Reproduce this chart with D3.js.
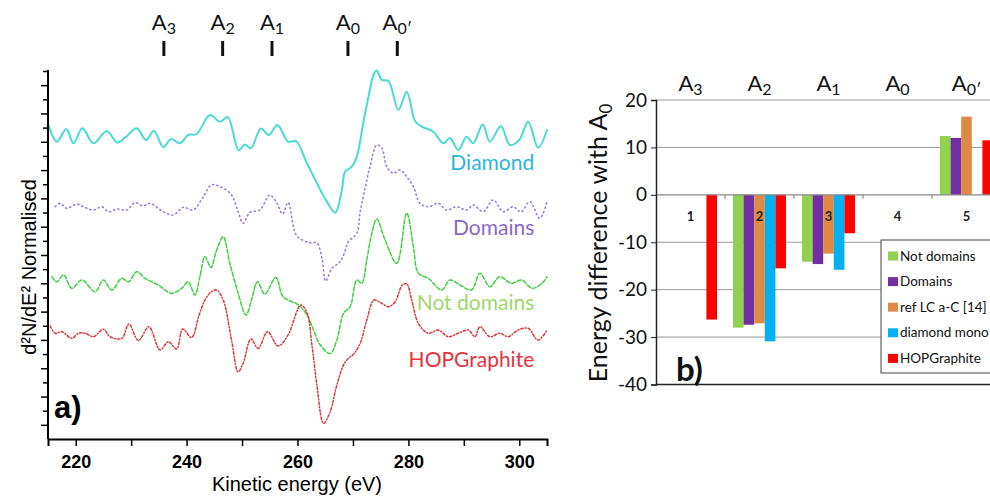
<!DOCTYPE html>
<html>
<head>
<meta charset="utf-8">
<script src="https://cdn.jsdelivr.net/npm/d3@7"></script>
<style>
  body { margin: 0; background: #fff; }
  svg { display: block; }
</style>
</head>
<body>
<svg id="chart" width="990" height="497"></svg>
<script>
// ---- panel a : [kinetic energy (eV), d2N/dE2 normalised (arb. units, offset per curve)]
const diamond = [
  [215.2, 9.07], [216.6, 8.01], [218.3, 8.90], [219.6, 7.89], [221.2, 8.95], [223.2, 7.89],
  [225.6, 8.76], [227.5, 7.94], [229.1, 8.36], [231.0, 8.95], [232.7, 8.13], [234.1, 8.78],
  [235.8, 7.61], [237.2, 8.20], [238.8, 7.89], [240.3, 8.48], [241.8, 8.55], [244.2, 9.89],
  [246.0, 9.42], [247.4, 9.75], [249.4, 7.39], [250.5, 7.81], [251.6, 7.54], [253.4, 8.94],
  [254.8, 8.48], [256.4, 9.19], [258.3, 7.99], [259.7, 8.06], [261.7, 6.48], [263.5, 5.07],
  [265.3, 3.77], [266.8, 2.99], [268.0, 4.59], [268.6, 5.89], [269.8, 6.24], [270.7, 6.95],
  [271.9, 9.42], [272.8, 11.19], [273.7, 12.72], [274.3, 13.04], [275.2, 12.37], [276.4, 12.30],
  [278.2, 10.25], [279.7, 11.54], [281.2, 9.47], [282.4, 9.07], [284.5, 8.71], [286.3, 7.89],
  [287.5, 8.27], [289.0, 7.42], [290.5, 8.36], [291.7, 7.89], [293.4, 9.22], [294.7, 8.01],
  [296.7, 9.10], [298.3, 7.77], [300.0, 8.13], [301.6, 9.42], [303.4, 7.58], [305.0, 8.83]
];
const domains = [
  [216.3, 3.41], [217.2, 3.65], [218.4, 3.30], [220.2, 3.60], [221.4, 3.41], [223.2, 3.18],
  [224.7, 3.41], [225.9, 3.06], [227.5, 3.25], [229.2, 3.18], [230.7, 3.70], [232.1, 3.46],
  [233.4, 3.65], [235.8, 3.06], [237.6, 2.83], [239.4, 3.37], [241.2, 3.18], [243.0, 4.12],
  [244.5, 4.95], [246.3, 4.78], [248.1, 4.24], [249.3, 3.06], [250.2, 2.24], [251.4, 3.00],
  [253.2, 3.18], [255.0, 4.24], [256.3, 3.65], [257.3, 2.90], [258.3, 3.71], [259.9, 1.34],
  [262.3, 0.87], [263.5, 0.85], [264.4, -0.21], [265.1, -1.84], [266.2, -0.94], [267.4, -0.59],
  [268.2, -0.12], [269.2, 0.94], [270.7, 1.53], [271.3, 3.04], [272.2, 4.73], [273.1, 6.29],
  [274.3, 7.77], [275.2, 7.56], [276.1, 6.24], [277.3, 5.77], [278.5, 6.01], [279.7, 5.53],
  [280.9, 4.83], [282.1, 3.65], [283.6, 3.41], [285.4, 3.65], [286.9, 3.18], [288.7, 3.41],
  [290.5, 3.18], [291.7, 3.53], [293.5, 3.06], [295.3, 3.89], [297.1, 3.06], [298.9, 3.41],
  [300.3, 3.04], [301.9, 3.77], [303.7, 2.59], [305.0, 3.77]
];
const notDomains = [
  [215.7, -1.53], [216.6, -1.89], [217.8, -1.41], [219.3, -2.35], [221.1, -1.77], [223.5, -2.59],
  [225.0, -1.77], [226.5, -2.47], [228.3, -1.65], [229.5, -1.89], [231.0, -1.18], [232.5, -1.65],
  [234.9, -2.12], [237.3, -2.71], [239.1, -2.35], [240.3, -1.89], [241.5, -2.83], [242.4, -1.53],
  [243.3, -0.12], [244.4, -0.88], [245.3, 0.21], [246.6, 1.29], [247.8, -0.59], [249.3, -2.71],
  [250.7, -4.24], [251.7, -3.18], [252.8, -1.89], [254.1, -2.76], [256.1, -1.59], [257.3, -2.90],
  [258.3, -3.18], [260.2, -3.53], [261.7, -4.24], [262.9, -5.30], [264.1, -6.36], [265.9, -6.96],
  [267.1, -6.01], [268.3, -4.12], [269.5, -3.65], [270.7, -1.77], [271.6, -2.00], [272.5, -0.35],
  [273.4, 1.53], [274.3, 2.54], [275.8, 1.06], [277.9, -0.59], [279.7, 2.95], [280.9, 0.59],
  [281.8, -1.29], [283.6, -1.65], [286.0, -2.47], [287.5, -1.77], [289.3, -2.12], [291.4, -2.47],
  [292.9, -1.29], [294.7, -2.24], [296.5, -1.53], [298.6, -2.00], [300.4, -1.77], [302.3, -2.35],
  [304.1, -2.00], [305.0, -1.53]
];
const hopGraphite = [
  [215.4, -5.02], [216.3, -5.53], [217.5, -5.42], [219.3, -5.89], [220.5, -5.53], [221.7, -5.53],
  [223.2, -5.77], [225.0, -5.25], [226.2, -5.77], [228.3, -5.89], [229.6, -4.88], [231.3, -6.04],
  [233.2, -5.07], [235.2, -6.71], [236.7, -6.13], [238.2, -6.64], [239.3, -5.23], [240.9, -5.83],
  [242.2, -4.31], [243.3, -3.18], [244.4, -2.62], [245.4, -2.47], [246.6, -3.18], [248.1, -6.01],
  [249.3, -8.25], [250.2, -7.65], [251.6, -5.94], [252.9, -6.59], [254.6, -5.42], [256.5, -6.43],
  [258.3, -5.65], [260.6, -3.53], [261.7, -4.06], [262.6, -6.36], [263.5, -9.19], [264.7, -11.89],
  [265.9, -11.06], [267.1, -9.19], [268.6, -7.56], [270.2, -6.96], [271.3, -6.24], [272.5, -4.59],
  [273.8, -3.18], [275.2, -3.42], [276.4, -3.65], [277.6, -3.32], [278.9, -2.12], [279.7, -2.05],
  [280.6, -3.18], [281.8, -4.83], [283.6, -5.53], [285.4, -5.30], [287.2, -5.77], [289.0, -5.53],
  [290.8, -5.30], [292.0, -5.77], [292.9, -5.07], [294.7, -5.77], [296.5, -5.53], [298.0, -5.77],
  [299.8, -5.30], [301.6, -5.18], [303.4, -6.01], [305.0, -5.30]
];
const curveNames = ["Diamond", "Domains", "Not domains", "HOPGraphite"];
const peakSubs = ["3", "2", "1", "0", "0\u2032"];
const peakEnergies = [235.9, 246.5, 255.4, 269.1, 278.0];
const energyTicks = [220, 230, 240, 250, 260, 270, 280, 290, 300];

// ---- panel b : energy difference with A0 (eV)
const groups = ["1", "2", "3", "4", "5"];
const barSeries = ["Not domains", "Domains", "ref LC a-C  [14]", "diamond mono", "HOPGraphite"];
const diffNotDomains = [null, -28.0, -14.1, null, 12.4];
const diffDomains = [null, -27.4, -14.6, null, 12.0];
const diffRefLC = [null, -27.1, -12.4, null, 16.5];
const diffDiamondMono = [null, -30.9, -15.8, null, null];
const diffHOPG = [-26.3, -15.5, -8.1, null, 11.5];
const diffTicks = [20, 10, 0, -10, -20, -30, -40];

const svg = d3.select("#chart");

// ======================= panel a =======================
const x = d3.scaleLinear().domain([215, 305]).range([48, 547]);
const y = d3.scaleLinear().domain([-13, 13]).range([439, 71]);

const lineStyles = [
  { data: diamond, color: "#46dcd4", width: 2, dash: null },
  { data: domains, color: "#9a80d8", width: 1.6, dash: "1.2,3.2" },
  { data: notDomains, color: "#3fcf3f", width: 1.5, dash: "4,2" },
  { data: hopGraphite, color: "#d8383c", width: 1.5, dash: "2.5,2,1,2" }
];
const labelColors = ["#2eb5d6", "#8a68c4", "#9fd86a", "#e8323a"];

const line = d3.line()
  .x(d => x(d[0]))
  .y(d => y(d[1]))
  .curve(d3.curveCatmullRom.alpha(0.5));

const plotA = svg.append("g");
plotA.selectAll(".spec")
  .data(lineStyles)
  .enter().append("path")
    .attr("class", "spec")
    .attr("d", d => line(d.data))
    .attr("fill", "none")
    .attr("stroke", d => d.color)
    .attr("stroke-width", d => d.width)
    .attr("stroke-dasharray", d => d.dash)
    .attr("stroke-linecap", "round");

// curve names
const nameY = [6.0, 1.41, -3.89, -7.92];
plotA.selectAll(".cname")
  .data(curveNames)
  .enter().append("text")
    .attr("x", x(302.7))
    .attr("y", (d, i) => y(nameY[i]))
    .attr("text-anchor", "end")
    .attr("font-family", "Lato, sans-serif")
    .attr("font-size", 21)
    .attr("fill", (d, i) => labelColors[i])
    .text(d => d);

// axes
const xAxis = d3.axisBottom(x)
  .tickValues(energyTicks)
  .tickSize(7)
  .tickFormat(d => d % 20 === 0 ? d : "");
const gx = svg.append("g").attr("transform", "translate(0,439)").call(xAxis);
gx.select(".domain").attr("stroke-width", 2);
gx.selectAll(".tick line").attr("stroke-width", 1.5);
gx.selectAll(".tick text")
  .attr("font-family", "Liberation Sans, Arial, sans-serif")
  .attr("font-size", 18)
  .attr("font-weight", "bold")
  .attr("dy", "1.05em");

const yAxis = d3.axisLeft(y)
  .tickValues(d3.range(-12, 14))
  .tickSize(6)
  .tickFormat("");
const gy = svg.append("g").attr("transform", "translate(48,0)").call(yAxis);
gy.select(".domain").attr("stroke-width", 2).attr("d", "M0,439V70");
gy.selectAll(".tick line")
  .attr("stroke-width", 1.5)
  .attr("x2", d => d % 2 === 0 ? -7 : -5);

svg.append("text")
  .attr("x", 297).attr("y", 491)
  .attr("text-anchor", "middle")
  .attr("font-family", "Liberation Sans, Arial, sans-serif")
  .attr("font-size", 20)
  .text("Kinetic energy (eV)");

svg.append("text")
  .attr("transform", "translate(36,267) rotate(-90)")
  .attr("text-anchor", "middle")
  .attr("font-family", "Liberation Sans, Arial, sans-serif")
  .attr("font-size", 20)
  .text("d\u00b2N/dE\u00b2 Normalised");

svg.append("text")
  .attr("x", 54).attr("y", 418)
  .attr("font-family", "Liberation Sans, Arial, sans-serif")
  .attr("font-size", 31)
  .attr("font-weight", "bold")
  .text("a)");

// peak markers above panel a
const peaks = svg.append("g").selectAll("g")
  .data(peakEnergies)
  .enter().append("g")
    .attr("transform", d => `translate(${x(d)},0)`);
peaks.append("line")
  .attr("y1", 41).attr("y2", 56)
  .attr("stroke", "#111").attr("stroke-width", 3);
const pt = peaks.append("text")
  .attr("y", 30)
  .attr("text-anchor", "middle")
  .attr("font-family", "Lato, sans-serif")
  .attr("font-size", 22)
  .attr("fill", "#111");
pt.append("tspan").text("A");
pt.append("tspan").attr("dy", 4).attr("font-size", 16).text((d, i) => peakSubs[i]);

// ======================= panel b =======================
const barColors = ["#92d050", "#7030a0", "#de8a45", "#00b0f0", "#ff0000"];
const barValues = [diffNotDomains, diffDomains, diffRefLC, diffDiamondMono, diffHOPG];

const x0 = d3.scaleBand().domain(groups).range([656, 656 + 5 * 69]);
const x1 = d3.scaleBand().domain(barSeries).range([8, 61]);
const yb = d3.scaleLinear().domain([-40, 20]).range([384.5, 100]);

const grid = svg.append("g");
grid.selectAll("line")
  .data(diffTicks.filter(d => d !== -40 && d !== 0))
  .enter().append("line")
    .attr("x1", 656).attr("x2", 1010)
    .attr("y1", d => yb(d)).attr("y2", d => yb(d))
    .attr("stroke", "#9a9a9a").attr("stroke-width", 1);

// bars
const bars = [];
groups.forEach((g, gi) => {
  barSeries.forEach((s, si) => {
    const v = barValues[si][gi];
    if (v !== null) bars.push({ g, s, v, c: barColors[si] });
  });
});
svg.append("g").selectAll("rect")
  .data(bars)
  .enter().append("rect")
    .attr("x", d => x0(d.g) + x1(d.s))
    .attr("width", x1.bandwidth())
    .attr("y", d => yb(Math.max(0, d.v)))
    .attr("height", d => Math.abs(yb(d.v) - yb(0)))
    .attr("fill", d => d.c);

// zero line with category ticks
svg.append("line")
  .attr("x1", 656).attr("x2", 1010)
  .attr("y1", yb(0)).attr("y2", yb(0))
  .attr("stroke", "#8a8a8a").attr("stroke-width", 1.2);
svg.append("g").selectAll("line")
  .data(groups)
  .enter().append("line")
    .attr("x1", d => x0(d) + x0.bandwidth()).attr("x2", d => x0(d) + x0.bandwidth())
    .attr("y1", yb(0)).attr("y2", yb(0) + 4)
    .attr("stroke", "#8a8a8a").attr("stroke-width", 1.2);

svg.append("g").selectAll("text")
  .data(groups)
  .enter().append("text")
    .attr("x", d => x0(d) + x0.bandwidth() / 2)
    .attr("y", 221)
    .attr("text-anchor", "middle")
    .attr("font-family", "Lato, sans-serif")
    .attr("font-size", 13)
    .attr("font-weight", "bold")
    .attr("fill", "#222")
    .text(d => d);

// y axis
const ybAxis = d3.axisLeft(yb).tickValues(diffTicks).tickSize(5).tickPadding(4)
  .tickFormat(d => String(d));
const gyb = svg.append("g").attr("transform", "translate(656,0)").call(ybAxis);
gyb.select(".domain").attr("stroke", "#222").attr("stroke-width", 1.5);
gyb.selectAll(".tick line").attr("stroke", "#222");
gyb.selectAll(".tick text")
  .attr("font-family", "Lato, sans-serif")
  .attr("font-size", 19)
  .attr("fill", "#111");

svg.append("line")
  .attr("x1", 656).attr("x2", 1010)
  .attr("y1", yb(-40)).attr("y2", yb(-40))
  .attr("stroke", "#222").attr("stroke-width", 1.5);

const yt = svg.append("text")
  .attr("transform", "translate(607,243) rotate(-90)")
  .attr("text-anchor", "middle")
  .attr("font-family", "Lato, sans-serif")
  .attr("font-size", 25)
  .attr("fill", "#111");
yt.append("tspan").text("Energy difference with A");
yt.append("tspan").attr("dy", 5).attr("font-size", 17).text("0");

// peak names over groups
const pb = svg.append("g").selectAll("text")
  .data(groups)
  .enter().append("text")
    .attr("x", d => x0(d) + x0.bandwidth() / 2)
    .attr("y", 91)
    .attr("text-anchor", "middle")
    .attr("font-family", "Lato, sans-serif")
    .attr("font-size", 22)
    .attr("fill", "#111");
pb.append("tspan").text("A");
pb.append("tspan").attr("dy", 4).attr("font-size", 16).text((d, i) => peakSubs[i]);

svg.append("text")
  .attr("x", 676).attr("y", 381)
  .attr("font-family", "Lato, sans-serif")
  .attr("font-size", 33)
  .attr("font-weight", "bold")
  .attr("fill", "#111")
  .text("b)");

// legend
const lg = svg.append("g").attr("transform", "translate(881,240)");
lg.append("rect")
  .attr("width", 140).attr("height", 133)
  .attr("fill", "#fff").attr("stroke", "#444").attr("stroke-width", 1);
const li = lg.selectAll("g")
  .data(barSeries)
  .enter().append("g")
    .attr("transform", (d, i) => `translate(0,${16 + i * 25.6})`);
li.append("rect")
  .attr("x", 7).attr("y", -4.5)
  .attr("width", 10).attr("height", 9)
  .attr("fill", (d, i) => barColors[i]);
li.append("text")
  .attr("x", 19).attr("y", 4.5)
  .attr("font-family", "Lato, sans-serif")
  .attr("font-size", 13.5)
  .attr("fill", "#111")
  .text(d => d);
</script>
</body>
</html>
